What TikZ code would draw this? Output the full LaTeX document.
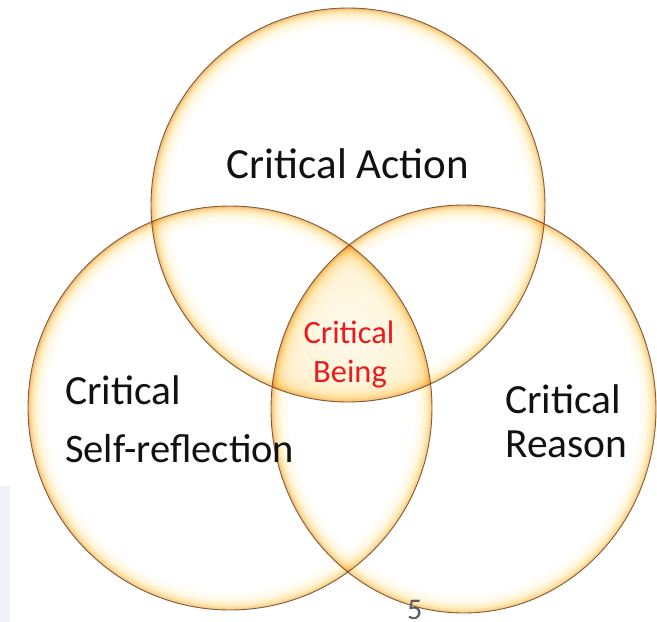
\documentclass[tikz,border=0pt]{standalone}
\usepackage{fontspec}
\setmainfont{Carlito}
\definecolor{ringA}{HTML}{FFF9E8}
\definecolor{ringB}{HTML}{FFEDBC}
\definecolor{ringC}{HTML}{FBD596}
\definecolor{ringD}{HTML}{EDB676}
\definecolor{outl}{HTML}{6E4822}
\definecolor{coreA}{HTML}{FFFAEC}
\definecolor{coreB}{HTML}{FFF4D8}
\definecolor{coreC}{HTML}{FFECC6}
\definecolor{beingred}{HTML}{EA1A1E}
\definecolor{pagegray}{HTML}{585B60}
\definecolor{stripblue}{HTML}{EEF3FA}
\definecolor{labelblack}{HTML}{111111}
\pgfdeclareradialshading{ringshade}{\pgfpoint{0bp}{0bp}}{color(0bp)=(white); color(22.6bp)=(white); color(23.7bp)=(ringA); color(24.35bp)=(ringB); color(24.75bp)=(ringC); color(25bp)=(ringD); color(50bp)=(ringD)}
\pgfdeclareradialshading{coreshade}{\pgfpoint{0bp}{0bp}}{color(0bp)=(coreA); color(14bp)=(coreB); color(25bp)=(coreC); color(50bp)=(coreC)}
\tikzset{
  ring/.style={shading=ringshade, blend mode=multiply},
  rim/.style={draw=outl, line width=0.9pt, draw opacity=0.85},
  biglabel/.style={inner sep=0pt, text=labelblack, font=\fontsize{43}{43}\selectfont},
  sidelabel/.style={inner sep=0pt, text=labelblack, font=\fontsize{41.5}{41.5}\selectfont},
  redlabel/.style={inner sep=0pt, text=beingred, font=\fontsize{32.5}{32.5}\selectfont},
  pagelabel/.style={inner sep=0pt, text depth=0pt, text=pagegray, font=\fontsize{30}{30}\selectfont}
}
\begin{document}
\begin{tikzpicture}[x=1pt,y=-1pt]
\useasboundingbox (0,0) rectangle (657,622);
\fill[white] (0,0) rectangle (657,622);
\fill[stripblue] (0,486) rectangle (9.5,622);
\coordinate (cT) at (348,205);
\coordinate (cL) at (230,408);
\coordinate (cR) at (463.5,409);
\coordinate (cC) at (350,330);
% triple overlap tint
\begin{scope}
  \clip (cT) circle[radius=197pt];
  \clip (cL) circle[radius=202pt];
  \clip (cR) ellipse[x radius=192.5pt, y radius=204pt];
  \shade[shading=coreshade] (cC) circle[radius=105pt];
\end{scope}
% glowing rings
\shade[ring] (cT) circle[radius=197pt];
\shade[ring] (cL) circle[radius=202pt];
\shade[ring] (cR) ellipse[x radius=192.5pt, y radius=204pt];
% outlines
\draw[rim] (cT) circle[radius=197pt];
\draw[rim] (cL) circle[radius=202pt];
\draw[rim] (cR) ellipse[x radius=192.5pt, y radius=204pt];
% labels
\node[biglabel, anchor=base] (act) at (348,178) {Critical Action};
\node[sidelabel, anchor=base west] (sr1) at (65,404) {Critical};
\node[sidelabel, anchor=base west, font=\fontsize{40.5}{40.5}\selectfont] (sr2) at (65,462) {Self-reflection};
\node[sidelabel, anchor=base west] (rs1) at (505,413) {Critical};
\node[sidelabel, anchor=base west] (rs2) at (505,457) {Reason};
\node[redlabel, anchor=base] (cb1) at (349,343) {Critical};
\node[redlabel, anchor=base] (cb2) at (350,382) {Being};
\node[pagelabel, anchor=base west] (pg) at (407,619.5) {5};
\end{tikzpicture}
\end{document}
